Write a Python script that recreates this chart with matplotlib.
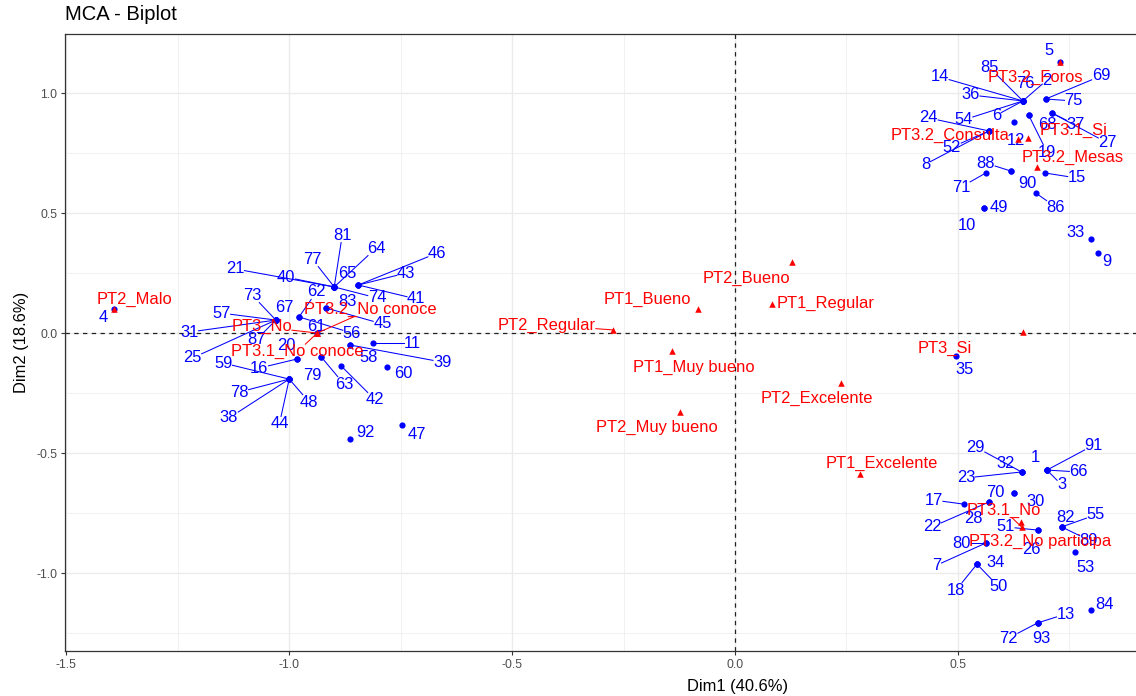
import numpy as np
import matplotlib.pyplot as plt

plt.rcParams['font.family'] = ['Liberation Sans', 'DejaVu Sans']
plt.rcParams['axes.unicode_minus'] = False

# individuals: id, coordinates (Dim1, Dim2) and where the repelled label sits
ind_id = ["73", "67", "57", "31", "25", "87", "62", "56", "83", "45",
          "61", "16", "20", "59", "78", "38", "44", "48", "79", "63",
          "42", "58", "39", "11", "60", "92", "47", "81", "77", "65",
          "64", "40", "21", "74", "46", "43", "41", "4",
          "5", "85", "14", "36", "76", "2", "54", "6", "75", "69",
          "37", "27", "19", "68", "12", "24", "52", "8", "71", "88",
          "90", "15", "86", "49", "10", "33", "9", "35",
          "29", "32", "23", "1", "91", "66", "3", "70", "30", "17",
          "22", "28", "51", "26", "82", "55", "89", "53", "80", "7",
          "34", "18", "50", "13", "72", "93", "84"]
ind_dim1 = [-1.030, -1.030, -1.030, -1.030, -1.030, -1.030, -0.978, -0.978, -0.917, -0.917,
            -0.937, -0.982, -0.982, -1.000, -1.000, -1.000, -1.000, -1.000, -0.928, -0.928,
            -0.883, -0.863, -0.863, -0.812, -0.780, -0.863, -0.747, -0.899, -0.899, -0.899,
            -0.899, -0.899, -0.899, -0.899, -0.845, -0.845, -0.845, -1.392,
            0.729, 0.646, 0.646, 0.646, 0.646, 0.646, 0.646, 0.646, 0.697, 0.697,
            0.711, 0.711, 0.659, 0.659, 0.626, 0.570, 0.570, 0.570, 0.563, 0.619,
            0.619, 0.695, 0.675, 0.558, 0.558, 0.798, 0.814, 0.496,
            0.643, 0.643, 0.643, 0.700, 0.700, 0.700, 0.700, 0.626, 0.626, 0.513,
            0.570, 0.570, 0.679, 0.679, 0.733, 0.733, 0.733, 0.762, 0.563, 0.563,
            0.543, 0.543, 0.543, 0.679, 0.679, 0.679, 0.798]
ind_dim2 = [0.054, 0.054, 0.054, 0.054, 0.054, 0.054, 0.067, 0.067, 0.104, 0.104,
            0.000, -0.108, -0.108, -0.192, -0.192, -0.192, -0.192, -0.192, -0.100, -0.100,
            -0.138, -0.050, -0.050, -0.042, -0.142, -0.442, -0.383, 0.192, 0.192, 0.192,
            0.192, 0.192, 0.192, 0.192, 0.200, 0.200, 0.200, 0.100,
            1.129, 0.967, 0.967, 0.967, 0.967, 0.967, 0.967, 0.967, 0.975, 0.975,
            0.917, 0.917, 0.908, 0.908, 0.879, 0.842, 0.842, 0.842, 0.667, 0.675,
            0.675, 0.667, 0.583, 0.521, 0.521, 0.392, 0.333, -0.096,
            -0.579, -0.579, -0.579, -0.571, -0.571, -0.571, -0.571, -0.667, -0.667, -0.713,
            -0.704, -0.704, -0.821, -0.821, -0.808, -0.808, -0.808, -0.913, -0.875, -0.875,
            -0.963, -0.963, -0.963, -1.208, -1.208, -1.208, -1.154]
ind_lab1 = [-1.083, -1.011, -1.152, -1.224, -1.217, -1.074, -0.939, -0.859, -0.870, -0.791,
            -0.939, -1.067, -1.007, -1.148, -1.112, -1.135, -1.022, -0.955, -0.948, -0.877,
            -0.807, -0.823, -0.657, -0.724, -0.744, -0.830, -0.713, -0.881, -0.948, -0.870,
            -0.805, -1.007, -1.121, -0.803, -0.668, -0.738, -0.715, -1.417,
            0.704, 0.570, 0.460, 0.529, 0.652, 0.700, 0.513, 0.587, 0.760, 0.821,
            0.765, 0.836, 0.700, 0.700, 0.630, 0.435, 0.487, 0.428, 0.507, 0.563,
            0.655, 0.767, 0.720, 0.592, 0.520, 0.765, 0.834, 0.516,
            0.540, 0.608, 0.518, 0.675, 0.805, 0.771, 0.733, 0.585, 0.675, 0.446,
            0.442, 0.536, 0.608, 0.666, 0.742, 0.809, 0.794, 0.787, 0.509, 0.453,
            0.585, 0.496, 0.592, 0.742, 0.614, 0.688, 0.830]
ind_lab2 = [0.158, 0.108, 0.083, 0.004, -0.104, -0.029, 0.171, 0.000, 0.133, 0.038,
            0.029, -0.146, -0.050, -0.125, -0.246, -0.354, -0.379, -0.288, -0.175, -0.213,
            -0.279, -0.104, -0.121, -0.042, -0.167, -0.413, -0.421, 0.408, 0.308, 0.250,
            0.354, 0.233, 0.267, 0.146, 0.333, 0.250, 0.142, 0.063,
            1.179, 1.108, 1.067, 0.992, 1.038, 1.054, 0.888, 0.908, 0.967, 1.071,
            0.867, 0.792, 0.754, 0.867, 0.804, 0.896, 0.775, 0.704, 0.608, 0.708,
            0.625, 0.646, 0.525, 0.521, 0.450, 0.417, 0.296, -0.154,
            -0.475, -0.542, -0.604, -0.517, -0.467, -0.579, -0.633, -0.663, -0.704, -0.696,
            -0.808, -0.771, -0.808, -0.904, -0.767, -0.758, -0.863, -0.975, -0.875, -0.967,
            -0.958, -1.071, -1.058, -1.171, -1.271, -1.271, -1.133]

# variable categories
var_name = ["PT2_Malo", "PT3_No", "PT3.1_No conoce", "PT3.2_No conoce", "PT2_Regular",
            "PT1_Bueno", "PT2_Bueno", "PT1_Regular", "PT1_Muy bueno", "PT2_Muy bueno",
            "PT2_Excelente", "PT1_Excelente", "PT3.2_Foros", "PT3.2_Consulta", "PT3.1_Si",
            "PT3.2_Mesas", "PT3_Si", "PT3.1_No", "PT3.2_No participa"]
var_dim1 = [-1.392, -0.937, -0.937, -0.937, -0.274,
            -0.083, 0.128, 0.083, -0.141, -0.123,
            0.238, 0.280, 0.729, 0.635, 0.657,
            0.677, 0.646, 0.643, 0.641]
var_dim2 = [0.100, 0.000, 0.000, 0.000, 0.013,
            0.100, 0.296, 0.121, -0.075, -0.329,
            -0.208, -0.588, 1.129, 0.808, 0.813,
            0.692, 0.004, -0.808, -0.788]
var_lab1 = [-1.347, -1.062, -0.982, -0.817, -0.422,
            -0.197, 0.025, 0.204, -0.092, -0.175,
            0.184, 0.330, 0.675, 0.483, 0.760,
            0.757, 0.470, 0.604, 0.684]
var_lab2 = [0.142, 0.026, -0.078, 0.099, 0.033,
            0.138, 0.229, 0.125, -0.142, -0.392,
            -0.271, -0.542, 1.067, 0.825, 0.846,
            0.733, -0.063, -0.738, -0.870]

# labels that ggrepel left without a connecting segment
no_segment = {"4", "5", "20", "79", "58", "60", "92", "47", "61", "65", "83", "67",
              "12", "68", "90", "10", "49", "33", "9", "84", "35", "1", "32", "70",
              "30", "28", "26", "82", "53", "34", "93", "76",
              "PT2_Malo", "PT1_Bueno", "PT2_Bueno", "PT1_Regular", "PT1_Muy bueno",
              "PT2_Muy bueno", "PT2_Excelente", "PT1_Excelente", "PT3_Si", "PT3.2_Foros",
              "PT3.1_Si", "PT3.2_Mesas", "PT3.2_No participa", "PT3.2_Consulta"}

BLUE = "#0000FF"
RED = "#FF0000"

fig = plt.figure(figsize=(11.36, 6.96), dpi=100)
# panel is wider than the saved picture (right side cropped, as in the original)
ax = fig.add_axes([65 / 1136, 45 / 696, 1343 / 1136, 617 / 696])
ax.set_xlim(-1.503, 1.51)
ax.set_ylim(-1.325, 1.246)

# only the ticks that fall inside the visible part get labels
ax.set_xticks(np.arange(-1.5, 0.51, 0.5))
ax.set_xticks(np.arange(-1.25, 1.0, 0.5), minor=True)
ax.set_yticks(np.arange(-1.0, 1.01, 0.5))
ax.set_yticks(np.arange(-1.25, 1.3, 0.5), minor=True)
ax.xaxis.set_major_formatter(plt.FormatStrFormatter('%.1f'))
ax.yaxis.set_major_formatter(plt.FormatStrFormatter('%.1f'))
ax.grid(which='major', color='#EBEBEB', lw=1.0, zorder=0)
ax.grid(which='minor', color='#EBEBEB', lw=0.5, zorder=0)
ax.set_axisbelow(True)
ax.tick_params(which='major', length=3, width=0.8, color='#333333',
               labelsize=8.8, labelcolor='#4D4D4D', pad=2.5)
ax.tick_params(which='minor', length=0)
for s in ax.spines.values():
    s.set_color('#333333')
    s.set_linewidth(0.9)

ax.axhline(0, color='#222222', lw=0.9, linestyle=(0, (3.5, 3.5)), zorder=1)
ax.axvline(0, color='#222222', lw=0.9, linestyle=(0, (3.5, 3.5)), zorder=1)

# points
ax.scatter(ind_dim1, ind_dim2, s=20, color=BLUE, zorder=3, linewidths=0)
ind_texts = [ax.text(lx, ly, t, color=BLUE, fontsize=11.9, ha='center', va='center', zorder=4)
             for t, lx, ly in zip(ind_id, ind_lab1, ind_lab2)]
ax.scatter(var_dim1, var_dim2, s=22, marker='^', color=RED, zorder=6, linewidths=0)
var_texts = [ax.text(lx, ly, t, color=RED, fontsize=11.9, ha='center', va='center', zorder=7)
             for t, lx, ly in zip(var_name, var_lab1, var_lab2)]

fig.canvas.draw()
renderer = fig.canvas.get_renderer()
inv = ax.transData.inverted()


def draw_segments(texts, xs, ys, color, z):
    for t, x0, y0 in zip(texts, xs, ys):
        if t.get_text() in no_segment:
            continue
        bb = t.get_window_extent(renderer)
        cx, cy = (bb.x0 + bb.x1) / 2, (bb.y0 + bb.y1) / 2
        px, py = ax.transData.transform((x0, y0))
        dx, dy = px - cx, py - cy
        tx = bb.width / 2 / abs(dx) if dx else np.inf
        ty = bb.height / 2 / abs(dy) if dy else np.inf
        tt = min(tx, ty)
        if tt >= 1:
            continue
        sx, sy = cx + dx * tt, cy + dy * tt
        if np.hypot(px - sx, py - sy) < 4:
            continue
        (a, b), (c, d) = inv.transform([(sx, sy), (px, py)])
        ax.plot([a, c], [b, d], color=color, lw=0.75, zorder=z)


draw_segments(ind_texts, ind_dim1, ind_dim2, BLUE, 2)
draw_segments(var_texts, var_dim1, var_dim2, RED, 5)
ax.set_xlim(-1.503, 1.51)
ax.set_ylim(-1.325, 1.246)

fig.text(65 / 1136, 1 - 15 / 696, "MCA - Biplot", fontsize=14.5, ha='left', va='center')
fig.text(737 / 1136, 1 - 687 / 696, "Dim1 (40.6%)", fontsize=11.9, ha='center', va='center')
fig.text(22 / 1136, 1 - 342 / 696, "Dim2 (18.6%)", fontsize=11.9, ha='center', va='center',
         rotation=90)

fig.savefig("out.png", dpi=100)
